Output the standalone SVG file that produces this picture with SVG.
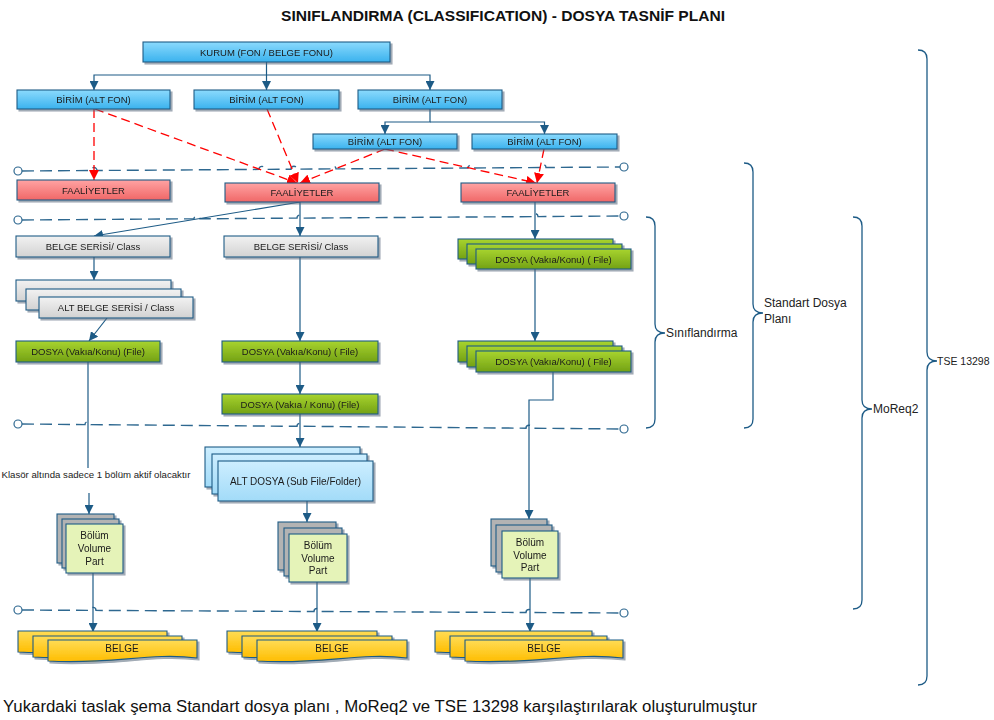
<svg xmlns="http://www.w3.org/2000/svg" width="994" height="720" viewBox="0 0 994 720">
<defs>
<linearGradient id="gBlue" x1="0" y1="0" x2="0" y2="1"><stop offset="0" stop-color="#8bdafd"/><stop offset="1" stop-color="#3ab2ee"/></linearGradient>
<linearGradient id="gRed" x1="0" y1="0" x2="0" y2="1"><stop offset="0" stop-color="#ffa3a3"/><stop offset="1" stop-color="#f06767"/></linearGradient>
<linearGradient id="gGray" x1="0" y1="0" x2="0" y2="1"><stop offset="0" stop-color="#f2f2f2"/><stop offset="1" stop-color="#d2d2d2"/></linearGradient>
<linearGradient id="gGreen" x1="0" y1="0" x2="0" y2="1"><stop offset="0" stop-color="#a8d42f"/><stop offset="1" stop-color="#73a114"/></linearGradient>
<linearGradient id="gLBlue" x1="0" y1="0" x2="0" y2="1"><stop offset="0" stop-color="#cdeeff"/><stop offset="1" stop-color="#a2dbf8"/></linearGradient>
<linearGradient id="gYel" x1="0" y1="0" x2="0" y2="1"><stop offset="0" stop-color="#ffdc55"/><stop offset="1" stop-color="#ffbd00"/></linearGradient>
<filter id="sh" x="-10%" y="-20%" width="130%" height="170%"><feDropShadow dx="2" dy="2" stdDeviation="0.7" flood-color="#55687a" flood-opacity="0.55"/></filter>
<marker id="ab" viewBox="0 0 10 10" refX="10" refY="5" markerWidth="9" markerHeight="9" orient="auto" markerUnits="userSpaceOnUse"><path d="M0,0 L10,5 L0,10 z" fill="#1d5b86"/></marker>
<marker id="ar" viewBox="0 0 10 10" refX="10" refY="5" markerWidth="10" markerHeight="10" orient="auto" markerUnits="userSpaceOnUse"><path d="M0,0 L10,5 L0,10 z" fill="#ff0000"/></marker>
</defs>
<style>
.bx{stroke:#1d5b86;stroke-width:1.1}
.blue{fill:url(#gBlue)}
.redf{fill:url(#gRed)}
.gray{fill:url(#gGray)}
.green{fill:url(#gGreen)}
.lblue{fill:url(#gLBlue)}
.vol{fill:#e5f3b8}
.volb{fill:#b3b3b3}
.yel{fill:url(#gYel)}
.lbl{font-family:"Liberation Sans",Arial,sans-serif;font-size:9.5px;fill:#1a1a1a;text-anchor:middle;dominant-baseline:central}
.vl{font-size:10px}
.con{fill:none;stroke:#1d5b86;stroke-width:1.2}
.red{fill:none;stroke:#ff0000;stroke-width:1.3;stroke-dasharray:9 5}
.sep{fill:none;stroke:#2e6890;stroke-width:1.4;stroke-dasharray:12 6}
.end{fill:#fff;stroke:#2e6890;stroke-width:1.2}
.brace{fill:none;stroke:#1d5b86;stroke-width:1.3}
.side{font-family:"Liberation Sans",Arial,sans-serif;font-size:12px;fill:#222;dominant-baseline:central}
.tse{font-size:10.5px}
.sh{filter:url(#sh)}
</style>
<rect width="994" height="720" fill="#ffffff"/>
<text x="503" y="21" font-family="'Liberation Sans',Arial,sans-serif" font-size="15" font-weight="bold" fill="#111" text-anchor="middle" textLength="444" lengthAdjust="spacingAndGlyphs">SINIFLANDIRMA (CLASSIFICATION) - DOSYA TASNİF PLANI</text>

<g id="separators">
<path class="sep" d="M22,171 L91,170.5 A3,3 0 0 1 97,170.5 L259,169.4 A3,3 0 0 1 265,169.4 L291,169.2 A3,3 0 0 1 297,169.2 L330,168.9 A3,3 0 0 1 336,168.9 L468,168 A3,3 0 0 1 474,168 L540,167.5 A3,3 0 0 1 546,167.5 L620,167"/>
<circle class="end" cx="18" cy="171" r="4"/><circle class="end" cx="624" cy="167" r="4"/>
<path class="sep" d="M22,220 L194,218.8 A3,3 0 0 1 200,218.8 L297,218.1 A3,3 0 0 1 303,218.1 L532,216.6 A3,3 0 0 1 538,216.6 L620,216"/>
<circle class="end" cx="18" cy="220" r="4"/><circle class="end" cx="624" cy="216" r="4"/>
<path class="sep" d="M22,424 L85,424.6 A3,3 0 0 1 91,424.6 L297,426.3 A3,3 0 0 1 303,426.3 L526,428.2 A3,3 0 0 1 532,428.2 L620,429"/>
<circle class="end" cx="18" cy="424" r="4"/><circle class="end" cx="624" cy="429" r="4"/>
<path class="sep" d="M22,610 L90,610.4 A3,3 0 0 1 96,610.4 L314,611.5 A3,3 0 0 1 320,611.5 L526,612.5 A3,3 0 0 1 532,612.5 L620,613"/>
<circle class="end" cx="18" cy="610" r="4"/><circle class="end" cx="624" cy="613" r="4"/>
</g>

<g id="connectors">
<path class="con" d="M266.5,62 V90" marker-end="url(#ab)"/>
<path class="con" d="M266.5,75 H94 V90" marker-end="url(#ab)"/>
<path class="con" d="M266.5,75 H430 V90" marker-end="url(#ab)"/>
<path class="con" d="M430,109 V122 H385 V134" marker-end="url(#ab)"/>
<path class="con" d="M430,122 H544.5 V134" marker-end="url(#ab)"/>
<path class="red" d="M94,109 V180" marker-end="url(#ar)"/>
<path class="red" d="M95,109 L297,183" marker-end="url(#ar)"/>
<path class="red" d="M267,109 L298,183" marker-end="url(#ar)"/>
<path class="red" d="M385,149 L300,183" marker-end="url(#ar)"/>
<path class="red" d="M385,149 L536,183" marker-end="url(#ar)"/>
<path class="red" d="M544,149 L537,183" marker-end="url(#ar)"/>
<path class="con" d="M300,202 L94,236" marker-end="url(#ab)"/>
<path class="con" d="M300,202 V236" marker-end="url(#ab)"/>
<path class="con" d="M94,257 V280" marker-end="url(#ab)"/>
<path class="con" d="M107,318 L89,341" marker-end="url(#ab)"/>
<path class="con" d="M300,257 V341" marker-end="url(#ab)"/>
<path class="con" d="M300,362 V394" marker-end="url(#ab)"/>
<path class="con" d="M535,202 V239" marker-end="url(#ab)"/>
<path class="con" d="M535,269 V341" marker-end="url(#ab)"/>
<path class="con" d="M553,372 V400 H529 V519" marker-end="url(#ab)"/>
<path class="con" d="M88,362 V468"/>
<path class="con" d="M89,493 V514" marker-end="url(#ab)"/>
<path class="con" d="M300,414 V447" marker-end="url(#ab)"/>
<path class="con" d="M307,501 V522" marker-end="url(#ab)"/>
<path class="con" d="M93,573 V632" marker-end="url(#ab)"/>
<path class="con" d="M317,582 V632" marker-end="url(#ab)"/>
<path class="con" d="M530,578 V632" marker-end="url(#ab)"/>
</g>

<text x="96" y="474" class="lbl" textLength="189" lengthAdjust="spacingAndGlyphs">Klasör altında sadece 1 bölüm aktif olacaktır</text>

<g id="kurum" class="sh"><rect class="bx blue" x="143" y="42" width="247" height="20"/><text class="lbl" x="266.5" y="52">KURUM (FON / BELGE FONU)</text></g>
<g id="birim1" class="sh"><rect class="bx blue" x="17" y="90" width="153" height="19"/><text class="lbl" x="93.5" y="99.5">BİRİM (ALT FON)</text></g>
<g id="birim2" class="sh"><rect class="bx blue" x="194" y="90" width="145" height="19"/><text class="lbl" x="266.5" y="99.5">BİRİM (ALT FON)</text></g>
<g id="birim3" class="sh"><rect class="bx blue" x="358" y="90" width="144" height="19"/><text class="lbl" x="430" y="99.5">BİRİM (ALT FON)</text></g>
<g id="birim4" class="sh"><rect class="bx blue" x="313" y="134" width="144" height="15"/><text class="lbl" x="385" y="141.5">BİRİM (ALT FON)</text></g>
<g id="birim5" class="sh"><rect class="bx blue" x="472" y="134" width="145" height="15"/><text class="lbl" x="544.5" y="141.5">BİRİM (ALT FON)</text></g>

<g id="faaliyet1" class="sh"><rect class="bx redf" x="17" y="180" width="153" height="20"/><text class="lbl" x="93.5" y="190">FAALİYETLER</text></g>
<g id="faaliyet2" class="sh"><rect class="bx redf" x="225" y="183" width="154" height="19"/><text class="lbl" x="302" y="192.5">FAALİYETLER</text></g>
<g id="faaliyet3" class="sh"><rect class="bx redf" x="461" y="183" width="154" height="19"/><text class="lbl" x="538" y="192.5">FAALİYETLER</text></g>

<g id="belgeserisi1" class="sh"><rect class="bx gray" x="16" y="236" width="154" height="21"/><text class="lbl" x="93" y="246.5">BELGE SERİSİ/ Class</text></g>
<g id="belgeserisi2" class="sh"><rect class="bx gray" x="224" y="236" width="154" height="21"/><text class="lbl" x="301" y="246.5">BELGE SERİSİ/ Class</text></g>
<g id="altbelgeserisi" class="sh">
<rect class="bx gray" x="16" y="280" width="155" height="21"/>
<rect class="bx gray" x="26" y="289" width="155" height="21"/>
<rect class="bx gray" x="39" y="297" width="154" height="21"/>
<text class="lbl" x="116" y="307.5">ALT BELGE SERİSİ / Class</text></g>

<g id="dosya1" class="sh"><rect class="bx green" x="16" y="341" width="144" height="21"/><text class="lbl" x="88" y="351.5">DOSYA (Vakıa/Konu) (File)</text></g>
<g id="dosya2" class="sh"><rect class="bx green" x="222" y="341" width="156" height="21"/><text class="lbl" x="300" y="351.5">DOSYA (Vakıa/Konu) ( File)</text></g>
<g id="dosya3" class="sh"><rect class="bx green" x="222" y="394" width="156" height="20"/><text class="lbl" x="300" y="404">DOSYA (Vakıa / Konu) (File)</text></g>
<g id="dosya4" class="sh">
<rect class="bx green" x="458" y="239" width="155" height="20"/>
<rect class="bx green" x="467" y="244" width="155" height="20"/>
<rect class="bx green" x="476" y="249" width="155" height="20"/>
<text class="lbl" x="553.5" y="259">DOSYA (Vakıa/Konu) ( File)</text></g>
<g id="dosya5" class="sh">
<rect class="bx green" x="458" y="341" width="155" height="21"/>
<rect class="bx green" x="467" y="346" width="155" height="21"/>
<rect class="bx green" x="476" y="351" width="155" height="21"/>
<text class="lbl" x="553.5" y="361.5">DOSYA (Vakıa/Konu) ( File)</text></g>

<g id="altdosya" class="sh">
<rect class="bx lblue" x="205" y="447" width="155" height="40"/>
<rect class="bx lblue" x="212" y="454" width="155" height="40"/>
<rect class="bx lblue" x="218" y="461" width="155" height="40"/>
<text class="lbl vl" x="295.5" y="481">ALT DOSYA (Sub File/Folder)</text></g>

<g id="bolum1" class="sh">
<rect class="bx volb" x="57" y="514" width="57" height="49"/>
<rect class="bx volb" x="62" y="519" width="57" height="49"/>
<rect class="bx vol" x="66" y="524" width="57" height="49"/>
<text class="lbl vl" x="94.5" y="535">Bölüm</text><text class="lbl vl" x="94.5" y="548">Volume</text><text class="lbl vl" x="94.5" y="561">Part</text></g>
<g id="bolum2" class="sh">
<rect class="bx volb" x="278" y="522" width="58" height="48"/>
<rect class="bx volb" x="284" y="528" width="58" height="48"/>
<rect class="bx vol" x="289" y="534" width="58" height="48"/>
<text class="lbl vl" x="318" y="545">Bölüm</text><text class="lbl vl" x="318" y="558">Volume</text><text class="lbl vl" x="318" y="570">Part</text></g>
<g id="bolum3" class="sh">
<rect class="bx volb" x="491" y="519" width="56" height="47"/>
<rect class="bx volb" x="496" y="525" width="56" height="47"/>
<rect class="bx vol" x="502" y="531" width="56" height="47"/>
<text class="lbl vl" x="530" y="542">Bölüm</text><text class="lbl vl" x="530" y="555">Volume</text><text class="lbl vl" x="530" y="567">Part</text></g>

<g id="belge1" class="sh">
<path class="bx yel" d="M18,631 H167 V649 C119,643 82,656 18,652 Z"/>
<path class="bx yel" d="M33,636 H182 V654 C134,648 97,661 33,657 Z"/>
<path class="bx yel" d="M48,640 H197 V658 C149,652 112,665 48,661 Z"/>
<text class="lbl vl" x="122" y="648">BELGE</text></g>
<g id="belge2" class="sh">
<path class="bx yel" d="M227,631 H377 V649 C329,643 292,656 227,652 Z"/>
<path class="bx yel" d="M242,636 H392 V654 C344,648 307,661 242,657 Z"/>
<path class="bx yel" d="M257,640 H407 V658 C359,652 322,665 257,661 Z"/>
<text class="lbl vl" x="332" y="648">BELGE</text></g>
<g id="belge3" class="sh">
<path class="bx yel" d="M435,631 H592 V649 C541,643 502,656 435,652 Z"/>
<path class="bx yel" d="M450,636 H607 V654 C556,648 517,661 450,657 Z"/>
<path class="bx yel" d="M465,640 H623 V658 C572,652 533,665 465,661 Z"/>
<text class="lbl vl" x="544" y="648">BELGE</text></g>

<g id="brace-siniflandirma"><path class="brace" d="M646,217 Q655,217 655,226 L655,324 Q655,333 665,333 Q655,333 655,342 L655,419 Q655,428 646,428"/><text class="side" x="666" y="333">Sınıflandırma</text></g>
<g id="brace-standart"><path class="brace" d="M744,163 Q753,163 753,172 L753,304 Q753,313 763,313 Q753,313 753,322 L753,419 Q753,428 744,428"/><text class="side" x="764" y="303">Standart Dosya</text><text class="side" x="764" y="319">Planı</text></g>
<g id="brace-moreq2"><path class="brace" d="M853,217 Q862,217 862,226 L862,400 Q862,409 872,409 Q862,409 862,418 L862,600 Q862,609 853,609"/><text class="side" x="873" y="409">MoReq2</text></g>
<g id="brace-tse"><path class="brace" d="M918,50 Q927,50 927,59 L927,352 Q927,361 937,361 Q927,361 927,370 L927,676 Q927,685 918,685"/><text class="side tse" x="937" y="361">TSE 13298</text></g>

<text x="3" y="712" font-family="'Liberation Sans',Arial,sans-serif" font-size="16" fill="#111" textLength="754" lengthAdjust="spacingAndGlyphs">Yukardaki taslak şema Standart dosya planı , MoReq2 ve TSE 13298 karşılaştırılarak oluşturulmuştur</text>
</svg>
